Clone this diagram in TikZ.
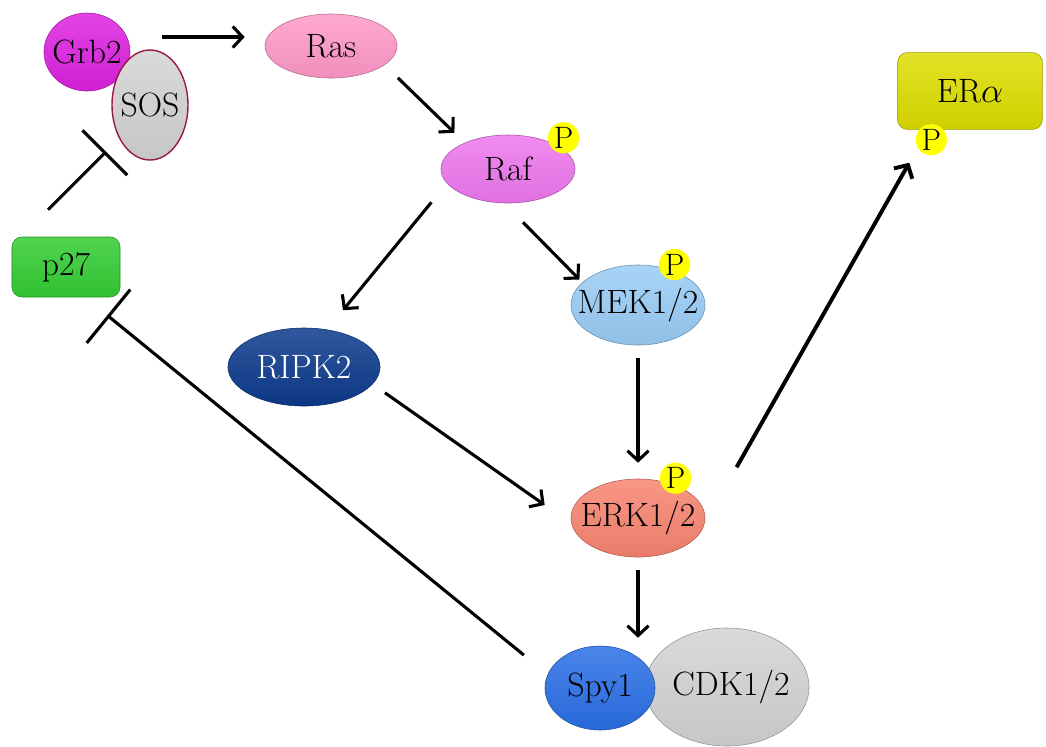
\documentclass[tikz,border=0pt]{standalone}
\usetikzlibrary{arrows.meta,positioning,shapes.geometric}
\definecolor{grbcol}{HTML}{DD22E0}
\definecolor{soscol}{HTML}{D3D3D3}
\definecolor{sosrim}{HTML}{9A1848}
\definecolor{rascol}{HTML}{FF99C8}
\definecolor{rafcol}{HTML}{EE77EE}
\definecolor{mekcol}{HTML}{99CCF5}
\definecolor{ripcol}{HTML}{0C3A8C}
\definecolor{erkcol}{HTML}{F88470}
\definecolor{spycol}{HTML}{2A6FE6}
\definecolor{cdkcol}{HTML}{D3D3D3}
\definecolor{eracol}{HTML}{DDDD00}
\definecolor{p27col}{HTML}{33CC33}
\definecolor{pcol}{HTML}{FFFF00}
\newcommand{\nm}[1]{\makebox[0pt]{#1}}

\begin{document}
\begin{tikzpicture}[x=0.025cm, y=-0.025cm,
    mol/.style={ellipse, draw=#1!70!black, top color=#1!85!white, middle color=#1, bottom color=#1!94!black, inner sep=0pt, font=\fontsize{24}{28}\selectfont},
    box/.style={rectangle, rounded corners=7pt, draw=#1!70!black, top color=#1!85!white, middle color=#1, bottom color=#1!94!black, inner sep=0pt, font=\fontsize{24}{28}\selectfont},
    pdot/.style={circle, fill=pcol, inner sep=0pt, minimum size=0.78cm, font=\fontsize{22}{26}\selectfont},
    act/.style={-{Straight Barb[length=7pt,width=15pt]}, line width=2.2pt},
    inh/.style={-{Bar[width=#1]}, line width=2.2pt}]
    \useasboundingbox (0,0) rectangle (1046,746);

    \node[mol=grbcol, minimum width=2.15cm, minimum height=1.95cm] (grb2) at (87,52) {\nm{Grb2}};
    \node[mol=soscol, draw=sosrim, line width=1pt, minimum width=1.9cm, minimum height=2.75cm] (sos) at (150,105) {\nm{SOS}};
    \node[mol=rascol, minimum width=3.3cm, minimum height=1.6cm] (ras) at (331,46) {\nm{Ras}};
    \node[mol=rafcol, minimum width=3.35cm, minimum height=1.7cm] (raf) at (508,169) {\nm{Raf}};
    \node[mol=mekcol, minimum width=3.35cm, minimum height=2cm] (mek) at (638,305) {\nm{MEK1/2}};
    \node[mol=ripcol, text=white, minimum width=3.8cm, minimum height=1.95cm] (ripk2) at (304,367) {\nm{RIPK2}};
    \node[mol=erkcol, minimum width=3.35cm, minimum height=1.95cm] (erk) at (638,518) {\nm{ERK1/2}};
    \node[mol=cdkcol, minimum width=4.1cm, minimum height=2.95cm] (cdk) at (727,687) {\hspace{0.2cm}\nm{CDK1/2}};
    \node[mol=spycol, minimum width=2.75cm, minimum height=2.1cm] (spy1) at (600,688) {\nm{Spy1}};
    \node[box=eracol, minimum width=3.62cm, minimum height=1.92cm] (era) at (970,91) {ER$\alpha$};
    \node[box=p27col, minimum width=2.7cm, minimum height=1.5cm] (p27) at (66,267) {p27};

    \node[pdot] (rafp) at ([shift={(8,-7)}]raf.north east) {P};
    \node[pdot] (mekp) at ([shift={(-11,-12)}]mek.north east) {P};
    \node[pdot] (erkp) at ([shift={(-10,-12)}]erk.north east) {P};
    \node[pdot] (erap) at ([shift={(34,10)}]era.south west) {P};

    \draw[act] ([shift={(32,-15)}]grb2.east) -- ([shift={(-20,-9)}]ras.west);
    \draw[act] ([shift={(20,9)}]ras.south east) -- ([shift={(-6,-12)}]raf.north west);
    \draw[act] ([shift={(-29,9)}]raf.south west) -- ([shift={(-15,-29)}]ripk2.north east);
    \draw[act] ([shift={(15,19)}]raf.south) -- ([shift={(-11,3)}]mek.north west);
    \draw[act] ([shift={(0,13)}]mek.south) -- ([shift={(0,-16)}]erk.north);
    \draw[act] ([shift={(27,-2)}]ripk2.south east) -- ([shift={(-26,-13)}]erk.west);
    \draw[act] ([shift={(0,13)}]erk.south) -- ([shift={(38,-8)}]spy1.north);
    \draw[act, line width=2.8pt] ([shift={(51,-23)}]erk.north east) -- ([shift={(12,33)}]era.south west);
    \draw[inh=45pt] ([shift={(-18,-27)}]p27.north) -- ([shift={(-44,-9)}]sos.south);
    \draw[inh=49pt] ([shift={(-37,-3)}]spy1.north west) -- ([shift={(-13,18)}]p27.south east);
\end{tikzpicture}
\end{document}
